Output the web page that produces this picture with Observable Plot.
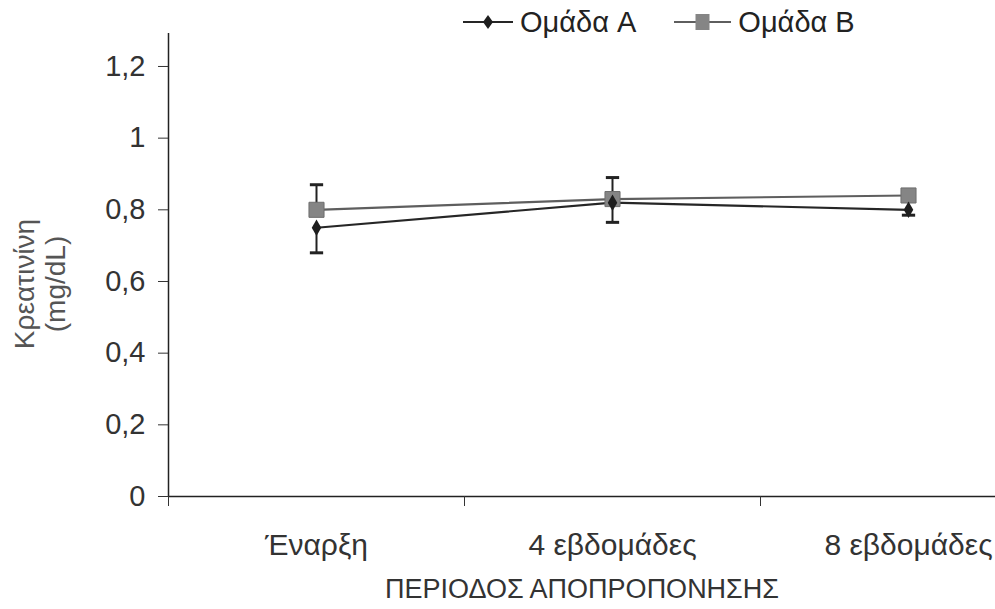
<!DOCTYPE html>
<html>
<head>
<meta charset="utf-8">
<script src="https://cdn.jsdelivr.net/npm/d3@7"></script>
<script src="https://cdn.jsdelivr.net/npm/@observablehq/plot@0.6"></script>
<style>
  html, body { margin: 0; padding: 0; background: #fff; }
  #wrap { position: relative; width: 995px; height: 609px; overflow: hidden; font-family: "Liberation Sans", Arial, sans-serif; }
  #legend { position: absolute; top: 6px; left: 463px; display: flex; align-items: center; font-size: 29px; color: #222; line-height: 32px; }
  #legend .item { display: flex; align-items: center; }
  #legend svg { margin-right: 7px; }
  svg.plot { overflow: hidden; }
</style>
</head>
<body>
<div id="wrap">
  <div id="chart"></div>
  <div id="legend"></div>
</div>
<script>
const categories = ["Έναρξη", "4 εβδομάδες", "8 εβδομάδες"];
const seriesNames = ["Ομάδα A", "Ομάδα B"];
const groupA = [0.75, 0.82, 0.80];
const errA = [0.07, 0.055, 0.015];   // drawn downward (minus)
const groupB = [0.80, 0.83, 0.84];
const errB = [0.07, 0.06, 0.01];     // drawn upward (plus)
const yTicks = [0, 0.2, 0.4, 0.6, 0.8, 1, 1.2];
const yLabel = ["Κρεατινίνη", "(mg/dL)"];
const xLabel = "ΠΕΡΙΟΔΟΣ ΑΠΟΠΡΟΠΟΝΗΣΗΣ";

const colors = {"Ομάδα A": "#1e1e1e", "Ομάδα B": "#858585"};
const lineColors = {"Ομάδα A": "#262626", "Ομάδα B": "#5e5e5e"};

const rows = [];
categories.forEach((c, i) => {
  rows.push({cat: c, pos: i + 0.5, value: groupA[i], lo: groupA[i] - errA[i], hi: groupA[i], series: seriesNames[0]});
  rows.push({cat: c, pos: i + 0.5, value: groupB[i], lo: groupB[i], hi: groupB[i] + errB[i], series: seriesNames[1]});
});
const capsTop = rows.filter(d => d.series === seriesNames[1]);
const capsBottom = rows.filter(d => d.series === seriesNames[0]);

const capSymbol = {
  draw(context, size) {
    const w = Math.sqrt(size) / 2;
    context.moveTo(-w, 0);
    context.lineTo(w, 0);
  }
};

const fmt = d => String(d).replace(".", ",");
const FONT = "Liberation Sans, Arial, sans-serif";

const plot = Plot.plot({
  width: 995,
  height: 609,
  marginLeft: 168,
  marginRight: 0,
  marginTop: 33,
  marginBottom: 113,
  style: {fontFamily: FONT, fontSize: "29px", color: "#333", background: "#fff"},
  x: {type: "linear", domain: [0, 827 / 296]},
  y: {domain: [0, 1.292]},
  marks: [
    Plot.ruleY([0], {stroke: "#222", strokeWidth: 1.5}),
    Plot.ruleX([0], {y1: 0, y2: 1.292, stroke: "#222", strokeWidth: 1.5}),
    Plot.axisY({ticks: yTicks, tickFormat: fmt, tickSize: 10, tickPadding: 13, label: null, fontSize: 29, fill: "#333", stroke: "#333"}),
    Plot.axisX({ticks: [0, 1, 2], tickFormat: () => "", tickSize: 10, label: null, stroke: "#333"}),
    Plot.axisX({ticks: [0.5, 1.5, 2.5], tickFormat: (d) => categories[Math.floor(d)], tickSize: 0, tickPadding: 37, label: null, fontSize: 30, fill: "#333"}),
    Plot.text([xLabel], {frameAnchor: "bottom", textAnchor: "middle", dy: 101, fontSize: 27, fill: "#333"}),
    Plot.text([yLabel.join("\n")], {frameAnchor: "left", textAnchor: "middle", rotate: -90, dx: -129, dy: 19, fontSize: 28, fill: "#555", lineHeight: 1.1}),
    // error bars
    Plot.ruleX(rows, {x: "pos", y1: "lo", y2: "hi", stroke: "#222", strokeWidth: 2}),
    Plot.dot(capsTop, {x: "pos", y: "hi", symbol: capSymbol, r: 7.5, stroke: "#222", strokeWidth: 3, fill: "none"}),
    Plot.dot(capsBottom, {x: "pos", y: "lo", symbol: capSymbol, r: 7.5, stroke: "#222", strokeWidth: 3, fill: "none"}),
    // lines
    Plot.line(rows, {x: "pos", y: "value", z: "series", stroke: d => lineColors[d.series], strokeWidth: 2.2}),
    // markers
    Plot.dot(capsTop, {x: "pos", y: "value", symbol: "square", r: 8.5, fill: colors[seriesNames[1]], stroke: "#6e6e6e", strokeWidth: 1}),
    Plot.dot(capsBottom, {x: "pos", y: "value", symbol: "diamond", r: 5, fill: colors[seriesNames[0]]})
  ]
});
document.getElementById("chart").appendChild(plot);

// legend
const legend = document.getElementById("legend");
const ns = "http://www.w3.org/2000/svg";
seriesNames.forEach((name, i) => {
  const item = document.createElement("div");
  item.className = "item";
  if (i === 0) item.style.marginRight = "38px";
  const w = i === 0 ? 50 : 57;
  const s = document.createElementNS(ns, "svg");
  s.setAttribute("width", w); s.setAttribute("height", 24);
  const ln = document.createElementNS(ns, "line");
  ln.setAttribute("x1", 0); ln.setAttribute("x2", w); ln.setAttribute("y1", 12); ln.setAttribute("y2", 12);
  ln.setAttribute("stroke", lineColors[name]); ln.setAttribute("stroke-width", 2);
  s.appendChild(ln);
  const c = w / 2;
  if (i === 0) {
    const p = document.createElementNS(ns, "path");
    p.setAttribute("d", `M${c},5 L${c + 5},12 L${c},19 L${c - 5},12 Z`);
    p.setAttribute("fill", colors[name]);
    s.appendChild(p);
  } else {
    const r = document.createElementNS(ns, "rect");
    r.setAttribute("x", c - 7); r.setAttribute("y", 4); r.setAttribute("width", 14); r.setAttribute("height", 16);
    r.setAttribute("fill", colors[name]);
    s.appendChild(r);
  }
  item.appendChild(s);
  const t = document.createElement("span");
  t.textContent = name;
  item.appendChild(t);
  legend.appendChild(item);
});
</script>
</body>
</html>
